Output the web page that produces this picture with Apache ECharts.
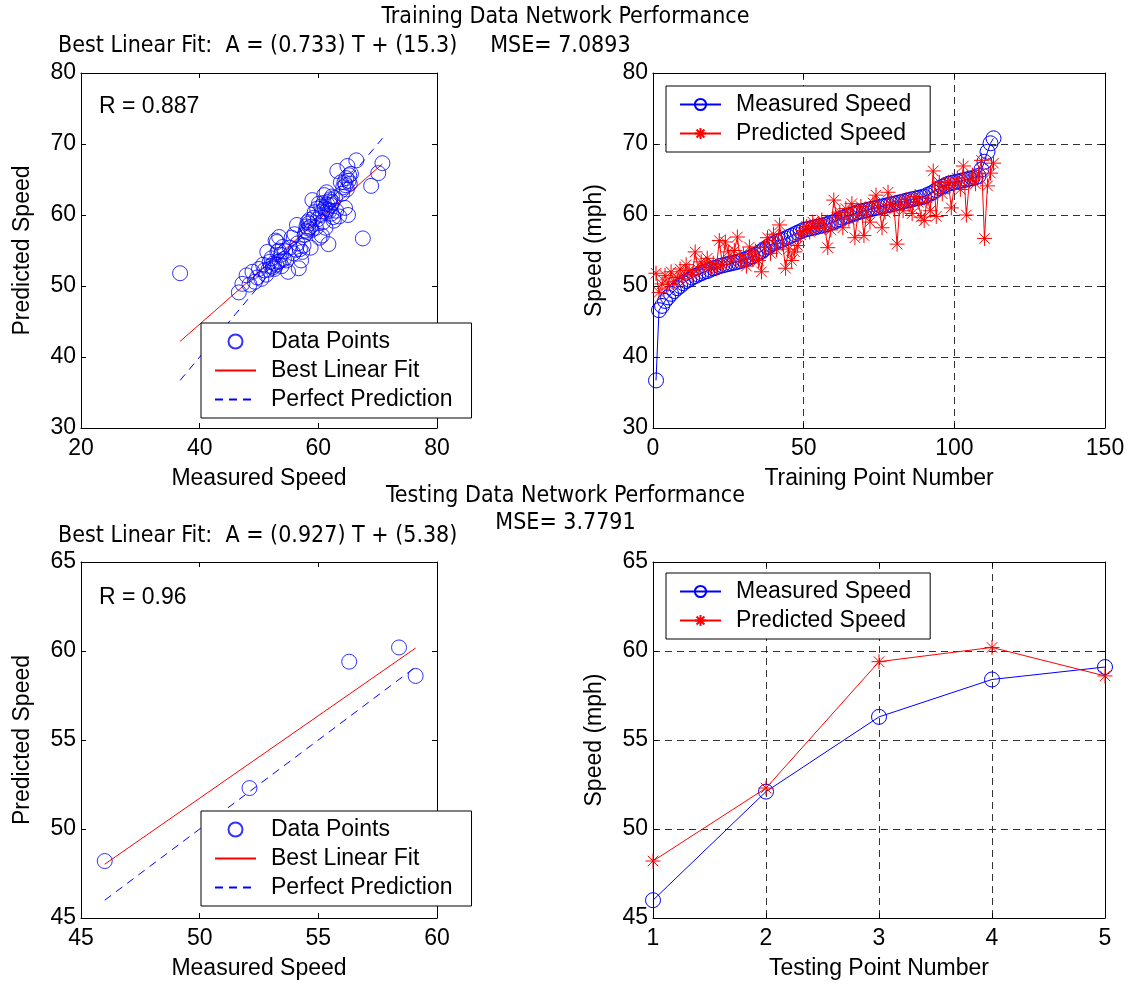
<!DOCTYPE html>
<html>
<head>
<meta charset="utf-8">
<script src="https://cdn.jsdelivr.net/npm/echarts@6/dist/echarts.min.js"></script>
<style>html,body{margin:0;padding:0;background:#fff}#c{width:1131px;height:985px}</style>
</head>
<body>
<div id="c"></div>
<script>
// ---- Training data (sorted by measured speed) ----
const trainMeasured = [36.7,46.6,47.2,47.9,48.4,48.9,49.3,49.7,50.0,50.4,
50.7,50.9,51.2,51.4,51.6,51.8,52.0,52.1,52.3,52.5,
52.6,52.8,52.9,53.0,53.1,53.2,53.3,53.4,53.5,53.7,
53.8,54.0,54.2,54.4,54.6,54.9,55.2,55.5,55.8,56.0,
56.2,56.4,56.5,56.7,56.9,57.1,57.3,57.5,57.7,57.9,
58.0,58.1,58.2,58.3,58.4,58.5,58.6,58.7,58.9,59.0,
59.2,59.4,59.6,59.8,59.9,60.1,60.2,60.4,60.5,60.6,
60.7,60.8,60.9,61.0,61.1,61.2,61.3,61.4,61.5,61.6,
61.7,61.8,61.9,62.0,62.1,62.2,62.3,62.4,62.5,62.6,
62.8,63.0,63.2,63.5,63.8,64.0,64.2,64.4,64.5,64.6,
64.7,64.8,64.9,65.0,65.1,65.2,65.3,65.5,66.4,67.5,
68.9,70.1,70.8];
const trainPredicted = [51.8,49.1,50.3,51.5,50.2,52.0,50.6,51.2,52.4,51.0,
53.0,52.2,51.6,54.8,52.3,53.4,52.8,53.9,52.6,53.2,
52.4,56.4,53.0,56.2,54.8,53.4,55.0,56.9,53.5,54.4,
52.8,55.5,53.8,54.9,53.6,52.0,55.4,56.8,54.6,57.3,
55.1,58.6,56.0,52.5,55.2,53.6,54.8,55.7,57.2,57.8,
58.4,57.6,59.0,58.1,58.8,59.3,58.3,55.4,57.9,62.1,
59.6,60.4,58.2,60.9,59.4,61.6,56.8,60.0,61.2,57.1,
60.5,59.0,61.7,62.8,61.0,58.2,60.4,63.2,61.5,60.8,
55.9,61.9,60.6,62.2,61.4,60.2,62.6,61.8,59.7,59.2,
62.4,60.6,66.2,59.8,64.6,63.0,63.9,64.6,61.0,64.2,
65.2,63.6,66.9,60.0,64.8,65.6,64.4,65.8,67.7,56.7,
64.1,65.9,67.3];
const trainFit = {slope: 0.733, intercept: 15.3};
// ---- Testing data ----
const testMeasured = [46.0, 52.1, 56.3, 58.4, 59.1];
const testPredicted = [48.2, 52.3, 59.4, 60.2, 58.6];
const testFit = {slope: 0.927, intercept: 5.38};
// ---- Texts ----
const texts = {
  trainTitle: 'Training Data Network Performance',
  trainFit: 'Best Linear Fit:  A = (0.733) T + (15.3)     MSE= 7.0893',
  trainR: 'R = 0.887',
  testTitle: 'Testing Data Network Performance',
  testMSE: 'MSE= 3.7791',
  testFit: 'Best Linear Fit:  A = (0.927) T + (5.38)',
  testR: 'R = 0.96'
};

const FONT = '"Liberation Sans", Arial, sans-serif';
const NARROW = '"Liberation Sans Narrow", "Arial Narrow", "DejaVu Sans Condensed", sans-serif';
const FS = 23;
const BLUE = '#0000ff', RED = '#ff0000';
const STAR = 'path://M10,0L10,20M0,10L20,10M3,3L17,17M3,17L17,3';

const grids = [
  {left: 81, top: 73, width: 356, height: 355},
  {left: 653, top: 73, width: 452, height: 355},
  {left: 81, top: 562, width: 356, height: 356},
  {left: 653, top: 562, width: 452, height: 356}
];
const xr = [[20,80,20],[0,150,50],[45,60,5],[1,5,1]];
const yr = [[30,80,10],[30,80,10],[45,65,5],[45,65,5]];
const xNames = ['Measured Speed','Training Point Number','Measured Speed','Testing Point Number'];
const yNames = ['Predicted Speed','Speed (mph)','Predicted Speed','Speed (mph)'];
const dashedGrid = [false,true,false,true];

const xAxis = [], yAxis = [];
for (let g = 0; g < 4; g++) {
  const split = {show: dashedGrid[g], lineStyle: {color: '#333', type: [7,5], width: 1}};
  xAxis.push({type:'value', gridIndex:g, min:xr[g][0], max:xr[g][1], interval:xr[g][2],
    position:'bottom', name:xNames[g], nameLocation:'middle', nameGap:39,
    nameTextStyle:{fontFamily:FONT, fontSize:FS, color:'#000'},
    axisLine:{show:true, onZero:false, lineStyle:{color:'#000', width:1}},
    axisTick:{inside:true, length:5, lineStyle:{color:'#000'}},
    axisLabel:{fontFamily:FONT, fontSize:FS, color:'#000', margin:9},
    splitLine:split});
  xAxis.push({type:'value', gridIndex:g, min:xr[g][0], max:xr[g][1], interval:xr[g][2],
    position:'top', axisLine:{show:true, onZero:false, lineStyle:{color:'#000', width:1}},
    axisTick:{inside:true, length:5, lineStyle:{color:'#000'}},
    axisLabel:{show:false}, splitLine:{show:false}});
  yAxis.push({type:'value', gridIndex:g, min:yr[g][0], max:yr[g][1], interval:yr[g][2],
    position:'left', name:yNames[g], nameLocation:'middle', nameGap:47,
    nameTextStyle:{fontFamily:FONT, fontSize:FS, color:'#000'},
    axisLine:{show:true, onZero:false, lineStyle:{color:'#000', width:1}},
    axisTick:{inside:true, length:5, lineStyle:{color:'#000'}},
    axisLabel:{fontFamily:FONT, fontSize:FS, color:'#000', margin:5},
    splitLine:split});
  yAxis.push({type:'value', gridIndex:g, min:yr[g][0], max:yr[g][1], interval:yr[g][2],
    position:'right', axisLine:{show:true, onZero:false, lineStyle:{color:'#000', width:1}},
    axisTick:{inside:true, length:5, lineStyle:{color:'#000'}},
    axisLabel:{show:false}, splitLine:{show:false}});
}

const ring = {color:'rgba(0,0,0,0)', borderColor:BLUE, borderWidth:1};
const noMark = {color:'rgba(0,0,0,0)', borderColor:'rgba(0,0,0,0)', borderWidth:0};
function pairs(a, b) { return a.map((v, i) => [v, b[i]]); }
function indexed(a) { return a.map((v, i) => [i + 1, v]); }
function fitLine(m, f) {
  const lo = Math.min(...m), hi = Math.max(...m);
  return [[lo, f.slope*lo + f.intercept], [hi, f.slope*hi + f.intercept]];
}
function perfect(m) {
  const lo = Math.min(...m), hi = Math.max(...m);
  return [[lo, lo], [hi, hi]];
}
function scatterBlock(gi, m, p, f) {
  return [
    {name:'Data Points', type:'scatter', xAxisIndex:gi*2, yAxisIndex:gi*2, data:pairs(m,p),
      symbol:'circle', symbolSize:15, itemStyle:ring, z:3},
    {name:'Best Linear Fit', type:'line', xAxisIndex:gi*2, yAxisIndex:gi*2, data:fitLine(m,f),
      symbol:'none', lineStyle:{color:RED, width:1}, itemStyle:noMark, z:2},
    {name:'Perfect Prediction', type:'line', xAxisIndex:gi*2, yAxisIndex:gi*2, data:perfect(m),
      symbol:'none', lineStyle:{color:BLUE, width:1, type:[8,6]}, itemStyle:noMark, z:2}
  ];
}
function lineBlock(gi, m, p) {
  return [
    {name:'Measured Speed', type:'line', xAxisIndex:gi*2, yAxisIndex:gi*2, data:indexed(m),
      symbol:'circle', symbolSize:15, showAllSymbol:true, lineStyle:{color:BLUE, width:1}, itemStyle:ring, z:2},
    {name:'Predicted Speed', type:'line', xAxisIndex:gi*2, yAxisIndex:gi*2, data:indexed(p),
      symbol:STAR, symbolSize:15, showAllSymbol:true, lineStyle:{color:RED, width:1},
      itemStyle:{color:RED, borderColor:RED, borderWidth:1}, z:3}
  ];
}

const series = [].concat(
  scatterBlock(0, trainMeasured, trainPredicted, trainFit),
  lineBlock(1, trainMeasured, trainPredicted),
  scatterBlock(2, testMeasured, testPredicted, testFit),
  lineBlock(3, testMeasured, testPredicted)
);

function legendAt(left, top, names) {
  return {left:left, top:top, orient:'vertical', data:names, selectedMode:false,
    backgroundColor:'#fff', borderColor:'#000', borderWidth:1,
    borderRadius:0, padding:[4, 19, 4, 13], itemGap:0, itemWidth:41, itemHeight:14,
    textStyle:{fontFamily:FONT, fontSize:FS, color:'#000', lineHeight:29, padding:[0,0,0,10]}};
}
const legend = [
  legendAt(201, 323, ['Data Points','Best Linear Fit','Perfect Prediction']),
  legendAt(666, 86, ['Measured Speed','Predicted Speed']),
  legendAt(201, 811, ['Data Points','Best Linear Fit','Perfect Prediction']),
  legendAt(666, 573, ['Measured Speed','Predicted Speed'])
];

function t(text, pos, font, size) {
  return Object.assign({text:text, textStyle:{fontFamily:font||FONT, fontSize:size||FS, fontWeight:'normal', color:'#000'}, padding:0}, pos);
}
const title = [
  t(texts.trainTitle, {left:'center', top:6}, NARROW, 23),
  t(texts.trainFit, {left:58, top:35}, NARROW, 23),
  t(texts.trainR, {left:99, top:95}),
  t(texts.testTitle, {left:'center', top:485}, NARROW, 23),
  t(texts.testMSE, {left:'center', top:512}, NARROW, 23),
  t(texts.testFit, {left:58, top:525}, NARROW, 23),
  t(texts.testR, {left:99, top:586})
];

const chart = echarts.init(document.getElementById('c'), null, {renderer:'canvas'});
chart.setOption({animation:false, backgroundColor:'#fff', title:title, legend:legend,
  grid:grids.map(g => Object.assign({containLabel:false}, g)), xAxis:xAxis, yAxis:yAxis, series:series});
</script>
</body>
</html>
